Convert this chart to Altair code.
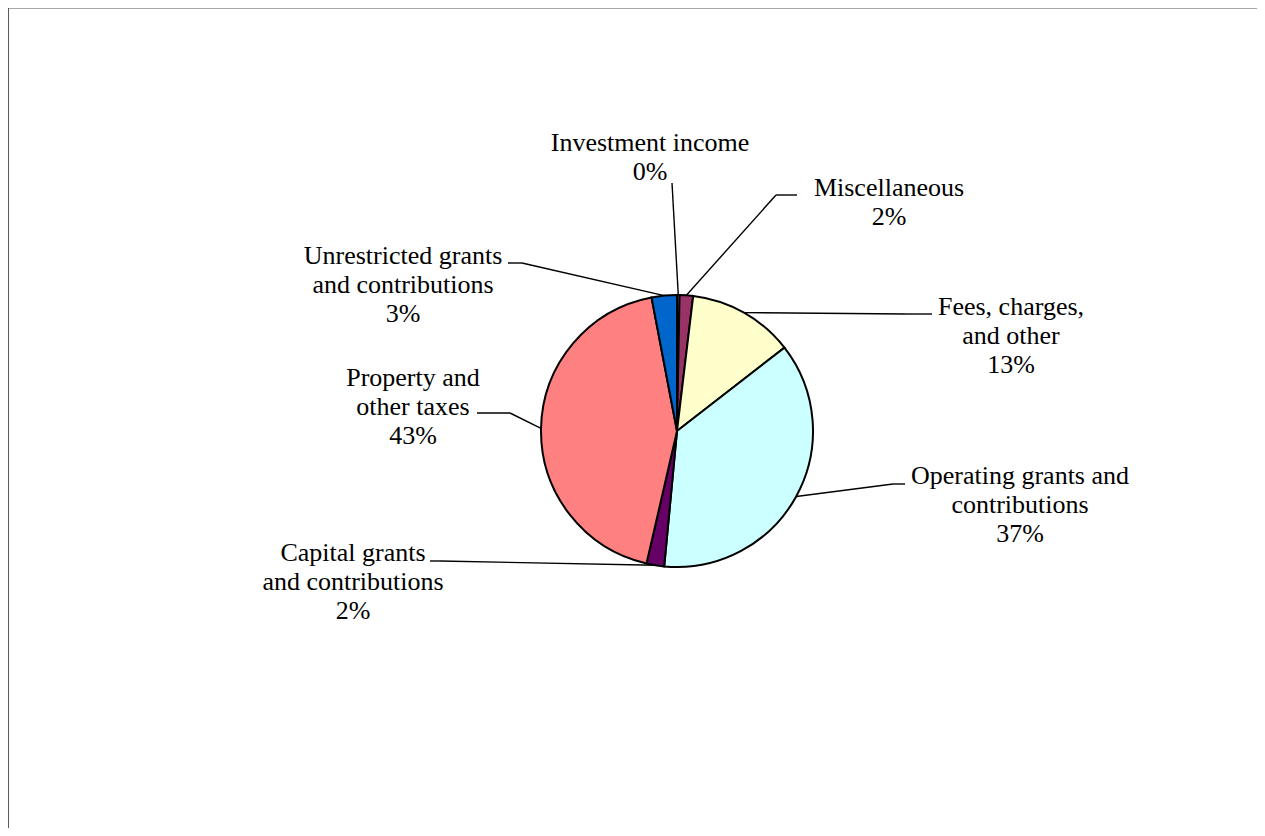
import altair as alt
import pandas as pd

# ---- data ----
categories = [
    "Investment income",
    "Miscellaneous",
    "Fees, charges, and other",
    "Operating grants and contributions",
    "Capital grants and contributions",
    "Property and other taxes",
    "Unrestricted grants and contributions",
]
label_text = [
    "Investment income",
    "Miscellaneous",
    "Fees, charges,|and other",
    "Operating grants and|contributions",
    "Capital grants|and contributions",
    "Property and|other taxes",
    "Unrestricted grants|and contributions",
]
values = [0.3, 1.6, 12.6, 37.0, 2.1, 43.4, 3.0]
colors = ["#9999FF", "#993366", "#FFFFCC", "#CCFFFF", "#660066", "#FF8080", "#0066CC"]

# ---- label layout (pixels relative to the pie centre; dy = first text line) ----
label_dx = [-27, 212, 334, 343, -324, -264, -274]
label_dy = [-288, -243, -124, 45, 122, -53, -175]
elbow_dx = [-5, 99, 228, 216, -237, -167, -155]
elbow_dy = [-248, -236, -117, 53, 130, -18, -168]
end_dx = [-5, 120, 255, 228, -247, -200, -169]

W, H = 1249, 820
CX, CY, R = 669, 423, 136

df = pd.DataFrame({
    "category": categories,
    "lab": label_text,
    "value": values,
    "order": list(range(len(categories))),
    "label_dx": label_dx,
    "label_dy": label_dy,
    "elbow_dx": elbow_dx,
    "elbow_dy": elbow_dy,
    "end_dx": end_dx,
})

xscale = alt.Scale(domain=[-CX, W - CX], nice=False, zero=False)
yscale = alt.Scale(domain=[-CY, H - CY], nice=False, zero=False, reverse=True)

base = alt.Chart(df).transform_joinaggregate(
    total="sum(value)"
).transform_window(
    cum="sum(value)", sort=[alt.SortField("order")], frame=[None, 0]
).transform_calculate(
    mid="(datum.cum - datum.value/2)/datum.total*2*PI",
    pct="round(datum.value/datum.total*100) + '%'",
).transform_calculate(
    ex=f"{R}*sin(datum.mid)",
    ey=f"-{R}*cos(datum.mid)",
    label="datum.lab + '|' + datum.pct",
)

pie = alt.Chart(df).mark_arc(radius=R, stroke="black", strokeWidth=2).encode(
    theta=alt.Theta("value:Q", stack=True),
    order=alt.Order("order:Q"),
    color=alt.Color("category:N", scale=alt.Scale(domain=categories, range=colors), legend=None),
    x=alt.X(datum=0, type="quantitative", scale=xscale, axis=None),
    y=alt.Y(datum=0, type="quantitative", scale=yscale, axis=None),
)

leader1 = base.mark_rule(color="black", strokeWidth=1.4).encode(
    x=alt.X("ex:Q", scale=xscale, axis=None),
    y=alt.Y("ey:Q", scale=yscale, axis=None),
    x2="elbow_dx:Q",
    y2="elbow_dy:Q",
)
leader2 = base.mark_rule(color="black", strokeWidth=1.4).encode(
    x=alt.X("elbow_dx:Q", scale=xscale, axis=None),
    y=alt.Y("elbow_dy:Q", scale=yscale, axis=None),
    x2="end_dx:Q",
    y2="elbow_dy:Q",
)

labels = base.mark_text(
    font="Liberation Serif", fontSize=26, lineBreak="|", align="center",
    baseline="middle", lineHeight=29, color="black",
).encode(
    x=alt.X("label_dx:Q", scale=xscale, axis=None),
    y=alt.Y("label_dy:Q", scale=yscale, axis=None),
    text="label:N",
)

# chart frame: top and left edges only (as in the reference)
frame_top = alt.Chart(df).mark_rule(color="#a8a8a8", strokeWidth=2).encode(
    x=alt.value(0), x2=alt.value(W), y=alt.value(0)
)
frame_left = alt.Chart(df).mark_rule(color="#5a5a5a", strokeWidth=2).encode(
    x=alt.value(0), y=alt.value(0), y2=alt.value(H)
)

chart = alt.layer(frame_top, frame_left, leader1, leader2, pie, labels).properties(
    width=W, height=H, padding=0, autosize=alt.AutoSizeParams(type="none")
).configure_view(stroke=None).configure(background="white")

chart.save("out.html", embed_options={"renderer": "svg", "actions": False})
